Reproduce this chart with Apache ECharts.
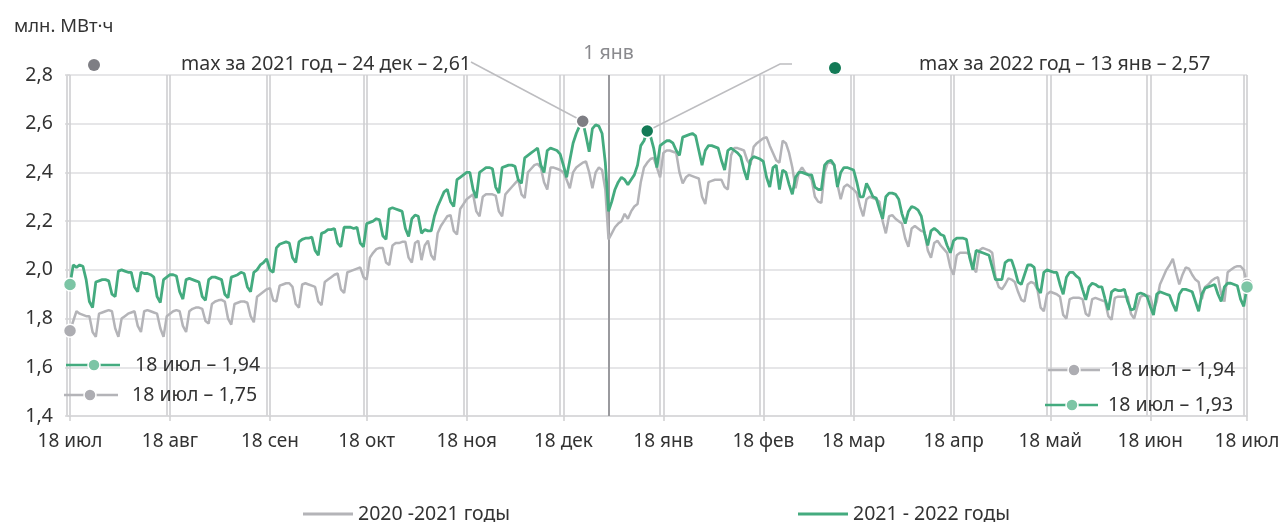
<!DOCTYPE html>
<html><head><meta charset="utf-8">
<script src="https://cdn.jsdelivr.net/npm/echarts@6/dist/echarts.min.js"></script>
<style>html,body{margin:0;padding:0;background:#fff}#c{width:1283px;height:522px}</style>
</head><body><div id="c"></div>
<script>
// ---- data ----
const xTickDays = [0, 31, 62, 92, 123, 153, 184, 215, 243, 274, 304, 335, 365];
const xTickLabels = ['18 июл','18 авг','18 сен','18 окт','18 ноя','18 дек','18 янв','18 фев','18 мар','18 апр','18 май','18 июн','18 июл'];
const yMin = 1.4, yMax = 2.8, yStep = 0.2;
const seriesNames = ['2020 -2021 годы', '2021 - 2022 годы'];
const janFirstDay = 167;
const maxDay2021 = 159, maxDay2022 = 179;
const maxLabel2021 = ['max за 2021 год', '24 дек'];
const maxLabel2022 = ['max за 2022 год', '13 янв'];
const edgeLabel = '18 июл';

// daily consumption, 18 Jul 2020 – 18 Jul 2021
const grey2021 = [
1.75, 1.79,
1.83, 1.82, 1.815, 1.81, 1.81, 1.745, 1.725,
1.82, 1.825, 1.83, 1.835, 1.83, 1.76, 1.725,
1.80, 1.81, 1.82, 1.825, 1.83, 1.77, 1.745,
1.83, 1.835, 1.83, 1.825, 1.82, 1.76, 1.725,
1.81, 1.82, 1.83, 1.835, 1.83, 1.77, 1.745,
1.83, 1.84, 1.845, 1.845, 1.84, 1.79, 1.78,
1.86, 1.87, 1.875, 1.877, 1.87, 1.80, 1.775,
1.86, 1.865, 1.87, 1.87, 1.865, 1.81, 1.785,
1.89, 1.90, 1.91, 1.92, 1.925, 1.875, 1.87,
1.935, 1.94, 1.945, 1.945, 1.93, 1.86, 1.845,
1.94, 1.945, 1.94, 1.935, 1.93, 1.87, 1.855,
1.95, 1.96, 1.97, 1.98, 1.985, 1.92, 1.905,
1.99, 1.995, 2.0, 2.005, 2.01, 1.97, 1.96,
2.05, 2.07, 2.085, 2.09, 2.09, 2.03, 2.02,
2.10, 2.11, 2.11, 2.115, 2.115, 2.05, 2.03,
2.11, 2.12, 2.04, 2.10, 2.12, 2.06, 2.04,
2.15, 2.18, 2.20, 2.22, 2.225, 2.16, 2.145,
2.25, 2.27, 2.29, 2.30, 2.31, 2.24, 2.22,
2.30, 2.31, 2.31, 2.31, 2.305, 2.24, 2.22,
2.31, 2.325, 2.34, 2.355, 2.37, 2.31, 2.295,
2.40, 2.415, 2.43, 2.435, 2.42, 2.36, 2.33,
2.42, 2.42, 2.415, 2.41, 2.40, 2.37, 2.335,
2.40, 2.42, 2.43, 2.44, 2.445, 2.40, 2.335,
2.40, 2.42, 2.41, 2.33, 2.125, 2.15, 2.175,
2.19, 2.20, 2.23, 2.21, 2.24, 2.26, 2.27,
2.36, 2.42, 2.44, 2.455, 2.46, 2.42, 2.38,
2.48, 2.49, 2.49, 2.485, 2.48, 2.40, 2.355,
2.38, 2.39, 2.385, 2.38, 2.375, 2.30, 2.27,
2.36, 2.365, 2.37, 2.37, 2.37, 2.34, 2.33,
2.47, 2.50, 2.50, 2.495, 2.49, 2.45, 2.43,
2.505, 2.52, 2.53, 2.54, 2.545, 2.51, 2.48,
2.45, 2.44, 2.53, 2.52, 2.48, 2.42, 2.335,
2.40, 2.42, 2.40, 2.39, 2.37, 2.30, 2.28,
2.275, 2.40, 2.44, 2.44, 2.43, 2.35, 2.29,
2.34, 2.35, 2.34, 2.33, 2.315, 2.26, 2.22,
2.29, 2.30, 2.295, 2.29, 2.28, 2.20, 2.15,
2.22, 2.225, 2.21, 2.20, 2.19, 2.13, 2.095,
2.17, 2.18, 2.17, 2.16, 2.155, 2.08, 2.05,
2.11, 2.12, 2.10, 2.085, 2.07, 2.01, 1.98,
2.06, 2.07, 2.07, 2.07, 2.065, 2.01, 1.99,
2.08, 2.09, 2.085, 2.08, 2.07, 1.97, 1.93,
1.92, 1.94, 1.965, 1.96, 1.95, 1.91, 1.877,
1.87, 1.94, 1.95, 1.945, 1.92, 1.845, 1.83,
1.90, 1.91, 1.905, 1.90, 1.89, 1.815, 1.80,
1.88, 1.885, 1.885, 1.885, 1.88, 1.82, 1.81,
1.88, 1.885, 1.88, 1.875, 1.87, 1.81, 1.795,
1.885, 1.89, 1.89, 1.89, 1.89, 1.82, 1.80,
1.85, 1.89, 1.895, 1.895, 1.89, 1.835, 1.87,
1.94, 1.97, 2.00, 2.02, 2.045, 1.99, 1.94,
1.98, 2.01, 2.005, 1.98, 1.96, 1.95, 1.88,
1.93, 1.94, 1.955, 1.965, 1.97, 1.90, 1.87,
1.99, 2.0, 2.01, 2.015, 2.015, 2.00, 1.94
];

// daily consumption, 18 Jul 2021 – 18 Jul 2022
const green2022 = [
1.94,
2.02, 2.01, 2.02, 2.015, 1.96, 1.87, 1.845,
1.95, 1.955, 1.96, 1.96, 1.955, 1.90, 1.89,
1.995, 2.0, 1.995, 1.99, 1.99, 1.93, 1.91,
1.99, 1.985, 1.985, 1.98, 1.97, 1.89, 1.866,
1.96, 1.97, 1.98, 1.98, 1.975, 1.91, 1.88,
1.96, 1.965, 1.96, 1.955, 1.95, 1.89, 1.875,
1.96, 1.97, 1.97, 1.965, 1.96, 1.90, 1.885,
1.97, 1.975, 1.98, 1.99, 1.985, 1.93, 1.91,
1.99, 2.0, 2.02, 2.03, 2.045, 2.0, 1.99,
2.09, 2.105, 2.11, 2.115, 2.11, 2.05, 2.03,
2.115, 2.125, 2.13, 2.13, 2.135, 2.08, 2.06,
2.15, 2.155, 2.165, 2.165, 2.17, 2.11, 2.095,
2.175, 2.175, 2.175, 2.17, 2.175, 2.11, 2.095,
2.19, 2.195, 2.2, 2.21, 2.205, 2.14, 2.125,
2.25, 2.255, 2.25, 2.245, 2.24, 2.17, 2.137,
2.21, 2.225, 2.22, 2.15, 2.165, 2.16, 2.16,
2.22, 2.26, 2.29, 2.32, 2.33, 2.28, 2.26,
2.37, 2.38, 2.39, 2.40, 2.40, 2.33, 2.295,
2.40, 2.41, 2.42, 2.42, 2.415, 2.34, 2.315,
2.42, 2.425, 2.43, 2.43, 2.425, 2.37, 2.355,
2.46, 2.47, 2.48, 2.49, 2.50, 2.43, 2.40,
2.49, 2.50, 2.495, 2.49, 2.475, 2.43, 2.38,
2.45, 2.52, 2.56, 2.59, 2.61, 2.55, 2.485,
2.58, 2.595, 2.59, 2.56, 2.44, 2.24, 2.28,
2.33, 2.36, 2.38, 2.37, 2.35, 2.37, 2.39,
2.43, 2.51, 2.53, 2.57, 2.55, 2.50, 2.42,
2.51, 2.52, 2.53, 2.53, 2.52, 2.49, 2.47,
2.545, 2.55, 2.555, 2.56, 2.55, 2.49, 2.43,
2.49, 2.51, 2.51, 2.505, 2.50, 2.45, 2.41,
2.49, 2.50, 2.49, 2.48, 2.465, 2.41, 2.37,
2.45, 2.465, 2.46, 2.455, 2.445, 2.38, 2.34,
2.42, 2.43, 2.33, 2.41, 2.40, 2.35, 2.31,
2.38, 2.40, 2.40, 2.395, 2.39, 2.39, 2.34,
2.33, 2.33, 2.43, 2.445, 2.45, 2.43, 2.34,
2.40, 2.42, 2.42, 2.415, 2.41, 2.36, 2.30,
2.30, 2.355, 2.33, 2.30, 2.295, 2.25, 2.21,
2.30, 2.315, 2.315, 2.31, 2.29, 2.23, 2.19,
2.24, 2.26, 2.255, 2.245, 2.22, 2.15, 2.10,
2.16, 2.17, 2.16, 2.145, 2.14, 2.10, 2.07,
2.12, 2.13, 2.13, 2.13, 2.125, 2.05, 2.0,
2.08, 2.075, 2.07, 2.065, 2.06, 2.01, 1.96,
1.96, 1.96, 2.03, 2.04, 2.04, 2.0, 1.95,
1.94, 1.98, 2.02, 2.02, 2.01, 1.925, 1.905,
1.99, 2.0, 1.995, 1.99, 1.99, 1.94, 1.90,
1.97, 1.99, 1.99, 1.975, 1.965, 1.92, 1.877,
1.93, 1.945, 1.94, 1.93, 1.93, 1.88, 1.835,
1.91, 1.92, 1.915, 1.915, 1.92, 1.87, 1.835,
1.84, 1.90, 1.905, 1.90, 1.89, 1.85, 1.815,
1.90, 1.91, 1.905, 1.90, 1.895, 1.86, 1.83,
1.90, 1.92, 1.92, 1.915, 1.91, 1.87, 1.83,
1.90, 1.925, 1.93, 1.935, 1.94, 1.90, 1.87,
1.93, 1.945, 1.945, 1.94, 1.935, 1.88, 1.85,
1.93
];

// ---- styles ----
const FONT = 'Noto Sans';
const FS = 19.5;
const TXT = '#333333';
const GREY = '#b4b4b8', GREEN = '#44ab7f';
const GREY_DOT = '#adadb2', GREEN_DOT = '#7cc5a5';
const GREY_MAX = '#7e7e84', GREEN_MAX = '#137a56';
const fmt = v => v.toFixed(2).replace('.', ',');

const lastDay = grey2021.length - 1;
const splitDays = [];
xTickDays.forEach(d => { splitDays.push(d - 1, d); });

const chart = echarts.init(document.getElementById('c'));

function dot(day, val, color) {
  return { coord: [day, val], symbol: 'circle', symbolSize: 13,
    itemStyle: { color: color, borderColor: '#fff', borderWidth: 1.5 } };
}

chart.setOption({
  animation: false,
  textStyle: { fontFamily: FONT },
  title: { text: 'млн. МВт·ч', left: 9, top: 12,
    textStyle: { fontFamily: FONT, fontSize: 18.5, fontWeight: 'normal', color: TXT } },
  legend: [
    { data: [seriesNames[0]], left: 298, top: 499, icon: 'rect', itemWidth: 50, itemHeight: 3, itemGap: 0,
      textStyle: { fontFamily: FONT, fontSize: FS, color: TXT } },
    { data: [seriesNames[1]], left: 793, top: 499, icon: 'rect', itemWidth: 50, itemHeight: 3, itemGap: 0,
      textStyle: { fontFamily: FONT, fontSize: FS, color: TXT } }
  ],
  grid: { left: 66.8, right: 36, top: 75, bottom: 106 },
  xAxis: [
    { type: 'value', min: -1, max: lastDay, position: 'bottom',
      axisLine: { show: false }, axisLabel: { show: false },
      axisTick: { show: false, customValues: splitDays },
      splitLine: { show: true, lineStyle: { color: '#cfcfd1', width: 1.6 } } },
    { type: 'value', min: -1, max: lastDay, position: 'bottom',
      axisLine: { show: true, lineStyle: { color: '#d6d6d8', width: 1.5 } },
      axisTick: { show: true, length: 5, customValues: xTickDays, lineStyle: { color: '#cfcfd1', width: 1.5 } },
      axisLabel: { show: true, customValues: xTickDays, margin: 16, fontSize: 19, color: TXT, fontFamily: FONT,
        formatter: v => { const i = xTickDays.indexOf(Math.round(v)); return i >= 0 ? xTickLabels[i] : ''; } },
      splitLine: { show: false } }
  ],
  yAxis: { type: 'value', min: yMin, max: yMax, interval: yStep,
    axisLine: { show: false },
    axisTick: { show: true, length: 5, lineStyle: { color: '#d6d6d8', width: 1.5 } },
    axisLabel: { margin: 14, fontSize: 19.5, color: TXT, fontFamily: FONT,
      formatter: v => v.toFixed(1).replace('.', ',') },
    splitLine: { lineStyle: { color: '#dedee0', width: 1.6 } } },
  series: [
    { name: seriesNames[0], type: 'line', xAxisIndex: 0, symbol: 'none', color: GREY,
      lineStyle: { width: 2.5, color: GREY }, z: 2,
      data: grey2021.map((v, i) => [i, v]),
      markLine: { symbol: 'none', silent: true, z: 1,
        lineStyle: { color: '#9a9a9e', width: 2, type: 'solid' },
        label: { show: true, position: 'end', distance: 12, formatter: '1 янв', fontSize: FS, color: '#8a8a8e', fontFamily: FONT },
        data: [{ xAxis: janFirstDay }] },
      markPoint: { silent: true, label: { show: false },
        data: [dot(0, grey2021[0], GREY_DOT), dot(lastDay, grey2021[lastDay], GREY_DOT)] } },
    { name: seriesNames[1], type: 'line', xAxisIndex: 0, symbol: 'none', color: GREEN,
      lineStyle: { width: 2.8, color: GREEN }, z: 3,
      data: green2022.map((v, i) => [i, v]),
      markPoint: { silent: true, label: { show: false },
        data: [dot(0, green2022[0], GREEN_DOT), dot(lastDay, green2022[lastDay], GREEN_DOT),
               dot(maxDay2021, green2022[maxDay2021], GREY_MAX), dot(maxDay2022, green2022[maxDay2022], GREEN_MAX)] } }
  ]
});

// ---- annotations ----
const p21 = chart.convertToPixel({ gridIndex: 0 }, [maxDay2021, green2022[maxDay2021]]);
const p22 = chart.convertToPixel({ gridIndex: 0 }, [maxDay2022, green2022[maxDay2022]]);
const tstyle = (x, y, text, extra) => Object.assign({ x: x, y: y, text: text, fill: TXT, fontSize: FS, fontFamily: FONT, verticalAlign: 'middle', align: 'left' }, extra || {});
function legendItem(x1, x2, cx, y, color, lineColor, text, tx) {
  return [
    { type: 'line', shape: { x1: x1, y1: y, x2: x2, y2: y }, style: { stroke: lineColor, lineWidth: 2.5 }, z: 10 },
    { type: 'circle', shape: { cx: cx, cy: y, r: 6 }, style: { fill: color, stroke: '#fff', lineWidth: 1.5 }, z: 11 },
    { type: 'text', style: tstyle(tx, y, text), z: 11 }
  ];
}
const graphics = [
  { type: 'circle', shape: { cx: 94, cy: 65, r: 6 }, style: { fill: GREY_MAX } },
  { type: 'text', style: tstyle(181, 64, maxLabel2021[0] + ' – ' + maxLabel2021[1] + ' – ' + fmt(green2022[maxDay2021])) },
  { type: 'line', shape: { x1: 471, y1: 62, x2: p21[0], y2: p21[1] }, style: { stroke: '#bdbdc0', lineWidth: 1.5 }, z: 1 },
  { type: 'circle', shape: { cx: 835, cy: 68, r: 6 }, style: { fill: GREEN_MAX } },
  { type: 'text', style: tstyle(919, 64, maxLabel2022[0] + ' – ' + maxLabel2022[1] + ' – ' + fmt(green2022[maxDay2022])) },
  { type: 'polyline', shape: { points: [[792, 64], [780, 64], [p22[0], p22[1]]] }, style: { stroke: '#bdbdc0', lineWidth: 1.5, fill: null }, z: 1 }
]
.concat(legendItem(66, 120, 94, 365, GREEN_DOT, GREEN, edgeLabel + ' – ' + fmt(green2022[0]), 135))
.concat(legendItem(64, 118, 90, 395, GREY_DOT, GREY, edgeLabel + ' – ' + fmt(grey2021[0]), 132))
.concat(legendItem(1048, 1100, 1074, 370, GREY_DOT, GREY, edgeLabel + ' – ' + fmt(grey2021[lastDay]), 1110))
.concat(legendItem(1045, 1098, 1072, 405, GREEN_DOT, GREEN, edgeLabel + ' – ' + fmt(green2022[lastDay]), 1108));
chart.setOption({ graphic: graphics });
</script>
</body></html>
